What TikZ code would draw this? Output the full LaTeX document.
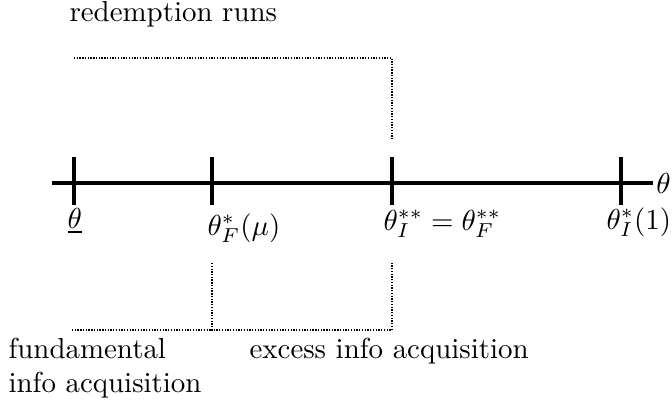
\documentclass[tikz,border=0pt]{standalone}
\begin{document}
\begin{tikzpicture}[x=0.346pt,y=-0.346pt,
  axisline/.style={line width=1.1pt},
  tickline/.style={line width=1.3pt},
  bracket/.style={line width=0.45pt,dash pattern=on 0.45pt off 0.5pt},
  lbl/.style={anchor=base west,inner sep=0pt}]
\useasboundingbox (0,0) rectangle (672,410);
% axis
\coordinate (a0) at (52,183);
\coordinate (a1) at (653,183);
\draw[axisline] (a0) -- (a1);
\node[anchor=west,inner sep=1pt] (thax) at (a1) {$\theta$};
% ticks
\foreach \n/\x in {t1/74,t2/212,t3/392,t4/621}{
  \coordinate (\n u) at (\x,157);
  \coordinate (\n d) at (\x,205);
  \draw[tickline] (\n u) -- (\n d);
}
% tick labels
\node[lbl] (l1) at (67,228) {$\underline{\theta}$};
\node[lbl] (l2) at (207,235) {$\theta_F^*(\mu)$};
\node[lbl] (l3) at (383,230) {$\theta_I^{**}=\theta_F^{**}$};
\node[lbl] (l4) at (606,229) {$\theta_I^*(1)$};
% redemption runs bracket
\coordinate (r0) at (74,58);
\coordinate (r1) at (392,58);
\coordinate (r2) at (392,139);
\draw[bracket] (r0) -- (r1) -- (r2);
\node[lbl] (rr) at (69,21) {redemption runs};
% lower brackets
\coordinate (b0) at (72,330);
\coordinate (b1) at (212,330);
\coordinate (b2) at (212,263);
\coordinate (b3) at (392,330);
\coordinate (b4) at (392,263);
\draw[bracket] (b0) -- (b1);
\draw[bracket,line width=0.55pt] (b2) -- (b1) -- (b3) -- (b4);
\node[lbl] (fa) at (8,358) {fundamental};
\node[lbl] (fb) at (8,392) {info acquisition};
\node[lbl] (ex) at (249,358) {excess info acquisition};
\end{tikzpicture}
\end{document}
